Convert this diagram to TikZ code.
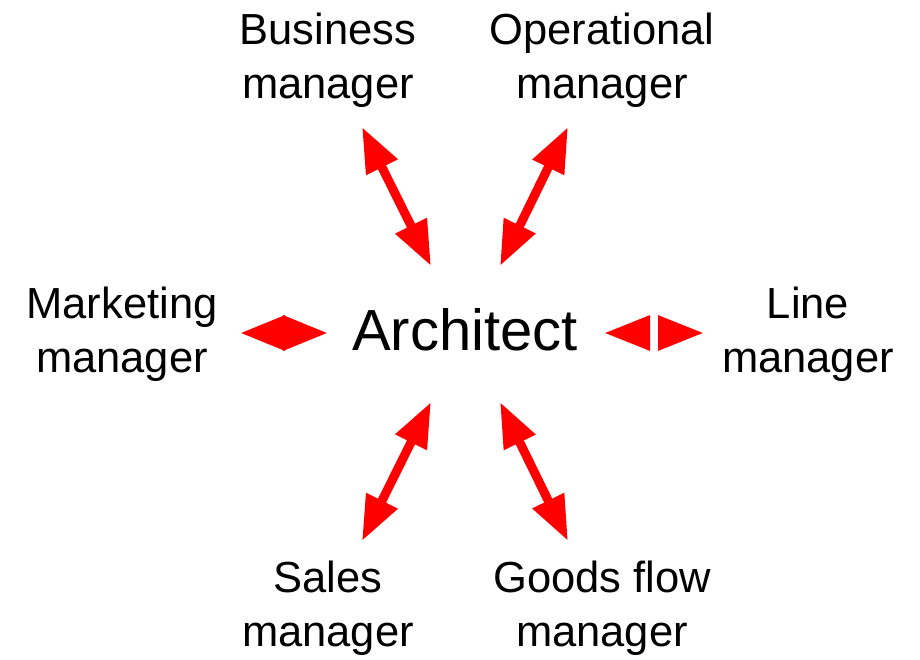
\documentclass[tikz,border=0pt]{standalone}
\usepackage{fontspec}
\setmainfont{Liberation Sans}
\usetikzlibrary{arrows.meta}
\begin{document}
\begin{tikzpicture}[x=1pt,y=-1pt,
  lbl/.style={align=center,inner sep=0pt,font=\fontsize{43.5}{54}\selectfont},
  link/.style={draw=red,line width=9pt,{Triangle[length=45pt,width=33pt]}-{Triangle[length=45pt,width=33pt]},fill=red},
  half/.style={draw=red,line width=9pt,-{Triangle[length=46pt,width=33pt]}}]
\useasboundingbox (0,0) rectangle (920,660);
\node[inner sep=0pt,font=\fontsize{58}{60}\selectfont] (arch) at (465,330) {Architect};
\node[lbl] (bus) at (328,60) {Business\\manager};
\node[lbl] (ops) at (602,60) {Operational\\manager};
\node[lbl] (mkt) at (122,334) {Marketing\\manager};
\node[lbl] (line) at (808,334) {Line\\manager};
\node[lbl] (sales) at (328,608) {Sales\\manager};
\node[lbl] (goods) at (602,608) {Goods flow\\manager};
\coordinate (b1) at (362,127); \coordinate (b2) at (431,266);
\coordinate (o1) at (568,127); \coordinate (o2) at (500,266);
\coordinate (m1) at (240,333); \coordinate (m2) at (328,333);
\coordinate (l0) at (650,333); \coordinate (l0b) at (658,333);
\coordinate (l1) at (604,333); \coordinate (l2) at (704,333);
\coordinate (s1) at (431,402); \coordinate (s2) at (362,541);
\coordinate (g1) at (500,402); \coordinate (g2) at (568,541);
\draw[link] (b1) -- (b2);
\draw[link] (o1) -- (o2);
\draw[link] (m1) -- (m2);
\draw[half] (l0) -- (l1);
\draw[half] (l0b) -- (l2);
\draw[link] (s1) -- (s2);
\draw[link] (g1) -- (g2);
\end{tikzpicture}
\end{document}
